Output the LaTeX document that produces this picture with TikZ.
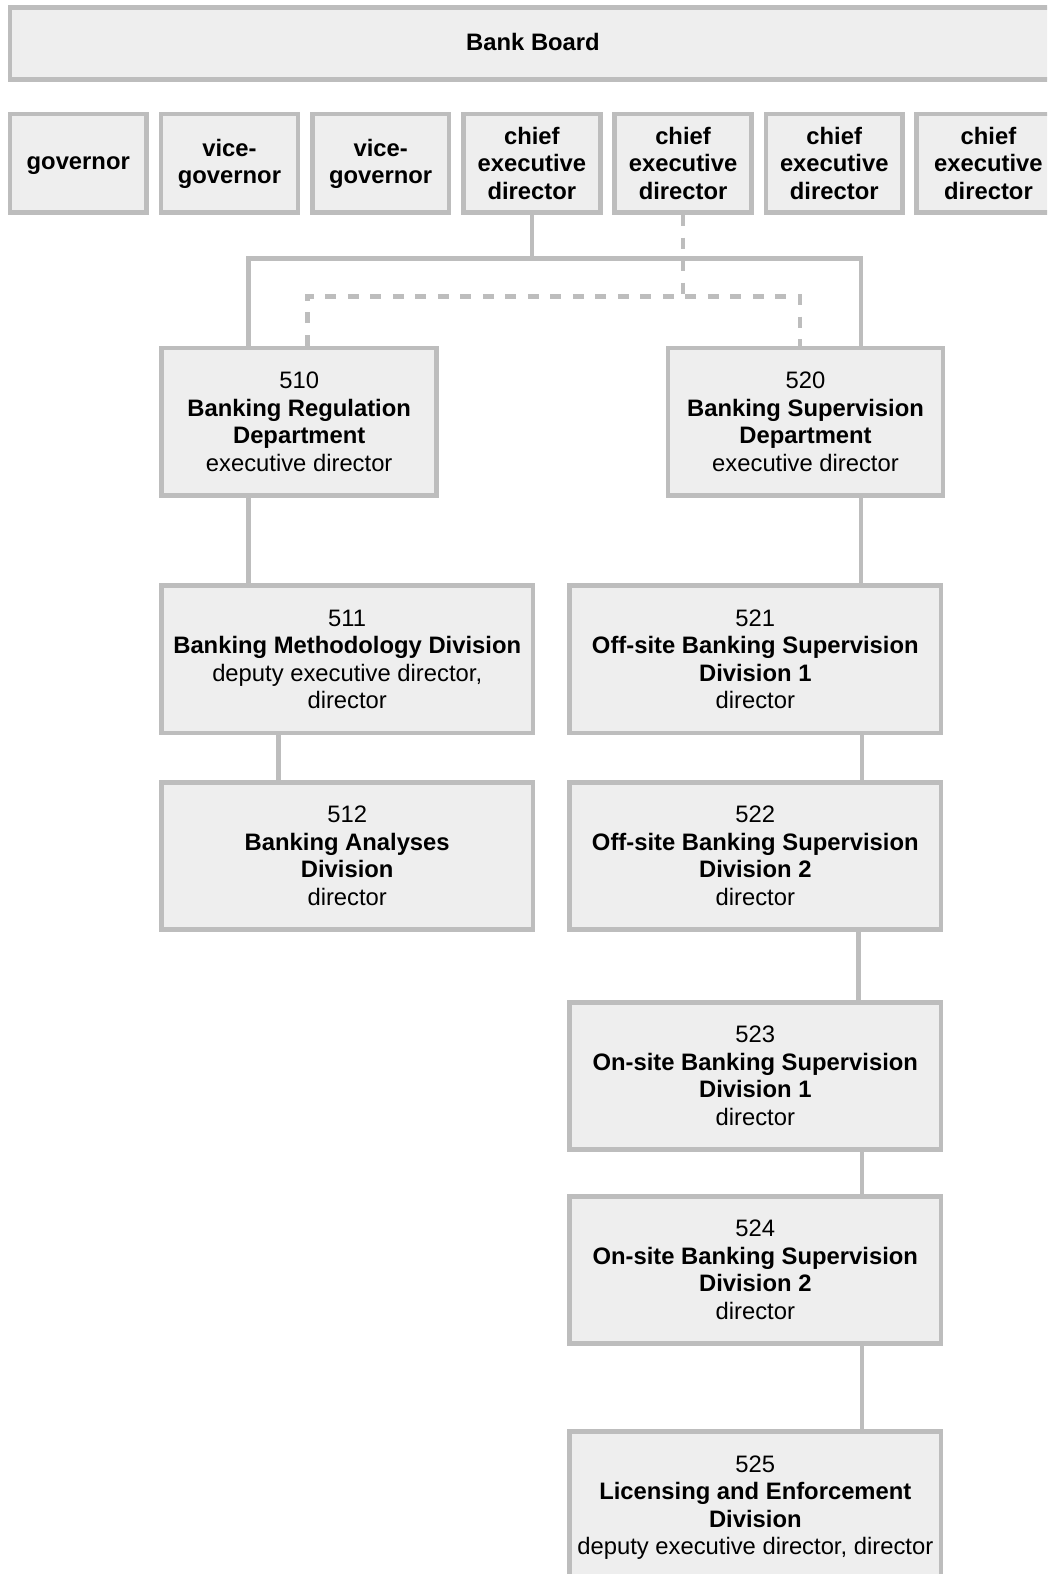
\documentclass[tikz,border=0pt]{standalone}
\usepackage{fontspec}
\setmainfont{Liberation Sans}
\definecolor{linegray}{HTML}{BDBDBD}
\definecolor{boxfill}{HTML}{EEEEEE}
% struts giving every text line the same line box
\newcommand\ls{\rule[-5.55pt]{0pt}{27.6pt}}
\newcommand\lt{\rule[-7.3pt]{0pt}{27.6pt}}
\newcommand\orgfont{\fontsize{23.8pt}{27.6pt}\selectfont}
\begin{document}
\begin{tikzpicture}[x=1pt,y=-1pt,
  orgbox/.style={draw=linegray, fill=boxfill, line width=4.6pt, inner sep=0pt,
    align=center, font=\orgfont, text=black},
  toprow/.style={orgbox, minimum width=136.9pt, minimum height=98.7pt},
  dept/.style={orgbox, minimum width=275.1pt, minimum height=147.2pt},
  division/.style={orgbox, minimum width=371.4pt, minimum height=147.2pt},
  link/.style={draw=linegray, line width=4.6pt},
  dlink/.style={draw=linegray, line width=4.6pt, dash pattern=on 11pt off 11.5pt}]
\useasboundingbox (0,0) rectangle (1047,1574);
\clip (0,0) rectangle (1047,1574);

% board and top management
\node[orgbox, minimum width=1046.4pt, minimum height=72.4pt] (board) at (533,43.5) {\lt\textbf{Bank Board}};
\node[toprow] (gov)  at (78.25,163.35)  {\lt\textbf{governor}};
\node[toprow] (vg1)  at (229.45,163.35) {\lt\textbf{vice-}\\\lt\textbf{governor}};
\node[toprow] (vg2)  at (380.65,163.35) {\lt\textbf{vice-}\\\lt\textbf{governor}};
\node[toprow] (ced1) at (531.85,163.35) {\ls\textbf{chief}\\\ls\textbf{executive}\\\ls\textbf{director}};
\node[toprow] (ced2) at (683.05,163.35) {\ls\textbf{chief}\\\ls\textbf{executive}\\\ls\textbf{director}};
\node[toprow] (ced3) at (834.25,163.35) {\ls\textbf{chief}\\\ls\textbf{executive}\\\ls\textbf{director}};
\node[toprow, minimum width=143.9pt] (ced4) at (988.45,163.35) {\ls\textbf{chief}\\\ls\textbf{executive}\\\ls\textbf{director}};

% departments
\node[dept] (d510) at (299.2,421.6) {\ls 510\\\ls\textbf{Banking Regulation}\\\ls\textbf{Department}\\\ls executive director};
\node[dept] (d520) at (805.5,421.6) {\ls 520\\\ls\textbf{Banking Supervision}\\\ls\textbf{Department}\\\ls executive director};

% divisions
\node[division] (d511) at (347.2,659.2) {\ls 511\\\ls\textbf{Banking Methodology Division}\\\ls deputy executive director,\\\ls director};
\node[division] (d512) at (347.2,855.9) {\ls 512\\\ls\textbf{Banking Analyses}\\\ls\textbf{Division}\\\ls director};
\node[division] (d521) at (755.3,659.2) {\ls 521\\\ls\textbf{Off-site Banking Supervision}\\\ls\textbf{Division 1}\\\ls director};
\node[division] (d522) at (755.3,855.9) {\ls 522\\\ls\textbf{Off-site Banking Supervision}\\\ls\textbf{Division 2}\\\ls director};
\node[division] (d523) at (755.3,1075.9) {\ls 523\\\ls\textbf{On-site Banking Supervision}\\\ls\textbf{Division 1}\\\ls director};
\node[division] (d524) at (755.3,1269.9) {\ls 524\\\ls\textbf{On-site Banking Supervision}\\\ls\textbf{Division 2}\\\ls director};
\node[division] (d525) at (755.3,1505.2) {\ls 525\\\ls\textbf{Licensing and Enforcement}\\\ls\textbf{Division}\\\ls deputy executive director, director};

% line of command
\coordinate (bus) at (533.3,258.3);
\draw[link] (ced1.south) -- (ced1.south |- bus);
\draw[link] ([xshift=-50.9pt]d510.north) |- (bus) -| ([xshift=55.5pt]d520.north);

% methodical guidance (dashed)
\coordinate (dashbar) at (0,296.3);
\draw[dlink] (ced2.south) -- (ced2.south |- dashbar);
\draw[dlink] ([xshift=8.1pt]d510.north) -- ([xshift=8.1pt]d510.north |- dashbar)
  -- ([xshift=-5.5pt]d520.north |- dashbar) -- ([xshift=-5.5pt]d520.north);

% links to divisions
\draw[link] ([xshift=-50.9pt]d510.south) -- ([xshift=-50.9pt]d510.south |- d511.north);
\draw[link] ([xshift=55.5pt]d520.south) -- ([xshift=55.5pt]d520.south |- d521.north);
\draw[link] ([xshift=-68.9pt]d511.south) -- ([xshift=-68.9pt]d511.south |- d512.north);
\draw[link] ([xshift=106.7pt]d521.south) -- ([xshift=106.7pt]d521.south |- d522.north);
\draw[link] ([xshift=103pt]d522.south) -- ([xshift=103pt]d522.south |- d523.north);
\draw[link] ([xshift=106.7pt]d523.south) -- ([xshift=106.7pt]d523.south |- d524.north);
\draw[link] ([xshift=106.7pt]d524.south) -- ([xshift=106.7pt]d524.south |- d525.north);
\end{tikzpicture}
\end{document}
